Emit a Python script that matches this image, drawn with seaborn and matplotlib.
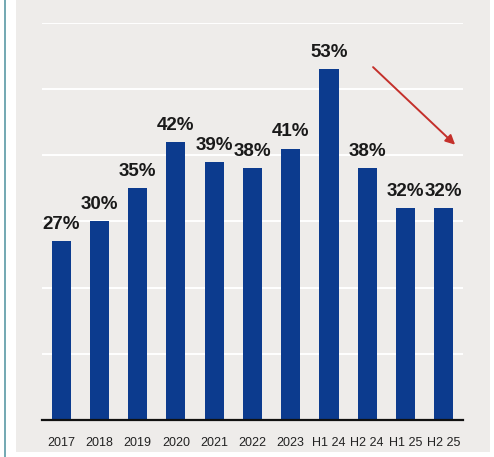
import matplotlib
matplotlib.use("Agg")
import matplotlib.pyplot as plt
import seaborn as sns
import pandas as pd
from matplotlib.patches import Rectangle

categories = ["2017", "2018", "2019", "2020", "2021", "2022", "2023", "H1 24", "H2 24", "H1 25", "H2 25"]
values = [27, 30, 35, 42, 39, 38, 41, 53, 38, 32, 32]
value_labels = ["27%", "30%", "35%", "42%", "39%", "38%", "41%", "53%", "38%", "32%", "32%"]

sns.set_theme(style="white")
plt.rcParams["font.family"] = ["Liberation Sans", "DejaVu Sans"]

bg = "#eeecea"
bar_color = "#0c3b8e"

fig = plt.figure(figsize=(4.94, 4.57), dpi=100, facecolor="white")
fig.add_artist(Rectangle((16 / 494, 5 / 457), (490 - 16) / 494, 452 / 457,
                         transform=fig.transFigure, facecolor=bg, edgecolor="none", zorder=0))
fig.add_artist(plt.Line2D([0.011, 0.011], [0.0, 1.0], color="#5a9aa6", linewidth=1.2))

ax = fig.add_axes([0.085, 0.081, 0.852, 0.869])
ax.set_facecolor(bg)

df = pd.DataFrame({"cat": categories, "val": values})
sns.barplot(data=df, x="cat", y="val", color=bar_color, saturation=1, width=0.5,
            linewidth=0, ax=ax, zorder=3)

ax.set_ylim(0, 60)
ax.set_xlim(-0.5, 10.5)
ax.set_yticks([10, 20, 30, 40, 50, 60])
ax.yaxis.grid(True, color="white", linewidth=1.4, zorder=0)
ax.set_axisbelow(True)
ax.tick_params(axis="y", left=False, labelleft=False)
ax.tick_params(axis="x", bottom=False, labelsize=9, labelcolor="#222222", pad=6)
ax.set_xlabel("")
ax.set_ylabel("")
for s in ["top", "right", "left"]:
    ax.spines[s].set_visible(False)
ax.spines["bottom"].set_color("#111111")
ax.spines["bottom"].set_linewidth(1.6)
ax.spines["bottom"].set_zorder(4)

for i, (v, lab) in enumerate(zip(values, value_labels)):
    ax.annotate(lab, (i, v), xytext=(0, 6), textcoords="offset points",
                ha="center", va="bottom", fontsize=13.5, fontweight="bold", color="#1a1a1a")

ax.annotate("", xy=(10.35, 41.3), xytext=(8.1, 53.6),
            arrowprops=dict(arrowstyle="-|>", color="#c4302b", lw=1.4, mutation_scale=14))

fig.savefig("out.png", dpi=100, facecolor="white")
